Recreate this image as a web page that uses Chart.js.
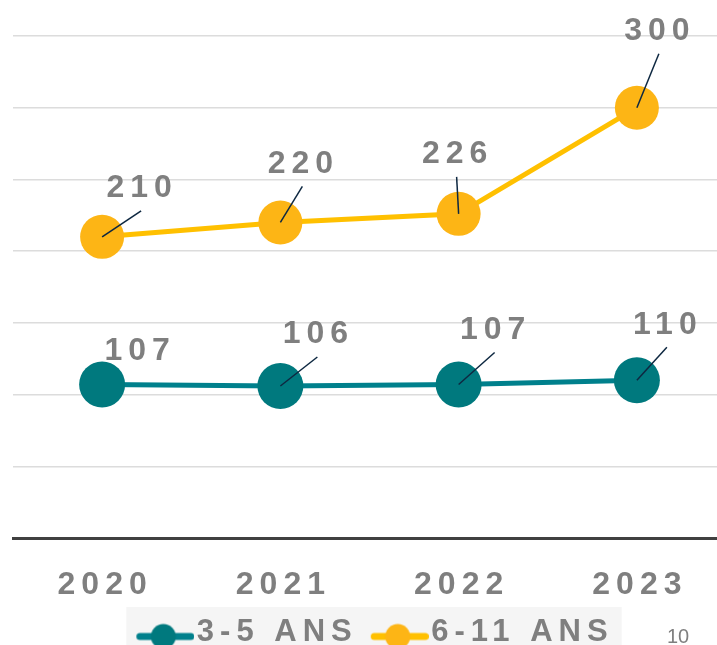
<!DOCTYPE html>
<html><head><meta charset="utf-8">
<script src="https://cdn.jsdelivr.net/npm/chart.js@4/dist/chart.umd.min.js"></script>
<style>
html,body{margin:0;padding:0;background:#fff;overflow:hidden;width:717px;height:645px;}
#wrap{position:absolute;left:0;top:0;width:730px;height:658px;}
#page{position:absolute;left:667px;top:626px;font:20px "Liberation Sans",Arial,sans-serif;color:#7f7f7f;line-height:20px;}
</style></head><body>
<div id="wrap"><canvas id="c" width="730" height="658"></canvas></div>
<div id="page">10</div>
<script>
// ---- data ----
const years = ['2020', '2021', '2022', '2023'];
const seriesNames = ['3-5 ANS', '6-11 ANS'];
const ages3to5 = [107, 106, 107, 110];
const ages6to11 = [210, 220, 226, 300];
const yTicks = [0, 50, 100, 150, 200, 250, 300, 350];

// ---- placement of callout labels (offset from point, px) ----
const labelOffsets = [
  [[35, -36], [35, -54], [34, -57], [28, -58]],
  [[37, -51], [20, -61], [-4, -62], [20, -79]]
];
const leaderShown = [[false, true, true, true], [true, true, true, true]];

const FONT = '"Liberation Sans", Arial, sans-serif';
const LS = 6;
const GREY = '#7f7f7f';
const TEAL_LINE = '#00808C', TEAL_PT = '#00797E';
const GOLD_LINE = '#FFC000', GOLD_PT = '#FDB515';

function makeMarker(lineColor, dotColor) {
  const c = document.createElement('canvas');
  c.width = 70; c.height = 36;
  const g = c.getContext('2d');
  g.strokeStyle = lineColor; g.lineWidth = 7; g.lineCap = 'round';
  g.beginPath(); g.moveTo(15.5, 22); g.lineTo(66.5, 22); g.stroke();
  g.fillStyle = dotColor;
  g.beginPath(); g.arc(39, 22, 12.5, 0, Math.PI * 2); g.fill();
  return c;
}
const markers = [makeMarker(TEAL_LINE, TEAL_PT), makeMarker(GOLD_LINE, GOLD_PT)];

const spacingPlugin = {
  id: 'spacing',
  beforeLayout(chart) { chart.ctx.letterSpacing = LS + 'px'; },
  afterLayout(chart) {
    const lg = chart.legend;
    if (lg) {
      lg.left += 6; lg.right += 6;
      (lg.legendHitBoxes || []).forEach(h => { h.left += 6; });
    }
  },
  beforeDraw(chart) { chart.ctx.letterSpacing = LS + 'px'; }
};

const legendBgPlugin = {
  id: 'legendBg',
  beforeDraw(chart) {
    const lg = chart.legend;
    if (!lg || !lg.legendHitBoxes || !lg.legendHitBoxes.length) return;
    const hb = lg.legendHitBoxes;
    const first = hb[0], last = hb[hb.length - 1];
    const ctx = chart.ctx;
    ctx.save();
    ctx.fillStyle = '#f5f5f5';
    const x0 = first.left - 11, x1 = last.left + last.width + 8;
    ctx.fillRect(x0, first.top - 10, x1 - x0, chart.height);
    ctx.restore();
  }
};

const calloutPlugin = {
  id: 'callouts',
  afterDatasetsDraw(chart) {
    const ctx = chart.ctx;
    ctx.save();
    chart.data.datasets.forEach((ds, i) => {
      const meta = chart.getDatasetMeta(i);
      meta.data.forEach((pt, j) => {
        const [dx, dy] = labelOffsets[i][j];
        const lx = pt.x + dx, ly = pt.y + dy;
        if (leaderShown[i][j]) {
          ctx.strokeStyle = '#0E2841';
          ctx.lineWidth = 1.5;
          ctx.beginPath();
          ctx.moveTo(pt.x, pt.y);
          ctx.lineTo(lx + 2, ly + 25);
          ctx.stroke();
        }
        ctx.letterSpacing = LS + 'px';
        ctx.font = 'bold 32px ' + FONT;
        ctx.fillStyle = GREY;
        ctx.textAlign = 'center';
        ctx.textBaseline = 'alphabetic';
        ctx.fillText(String(ds.data[j]), lx + LS / 2, ly + 11.5);
      });
    });
    ctx.restore();
  }
};

new Chart(document.getElementById('c'), {
  type: 'line',
  data: {
    labels: years,
    datasets: [
      {
        label: seriesNames[0], data: ages3to5,
        borderColor: TEAL_LINE, borderWidth: 5, tension: 0,
        pointRadius: 23, pointHoverRadius: 23,
        pointBackgroundColor: TEAL_PT, pointBorderColor: TEAL_PT, pointBorderWidth: 0
      },
      {
        label: seriesNames[1], data: ages6to11,
        borderColor: GOLD_LINE, borderWidth: 5, tension: 0,
        pointRadius: 22, pointHoverRadius: 22,
        pointBackgroundColor: GOLD_PT, pointBorderColor: GOLD_PT, pointBorderWidth: 0
      }
    ]
  },
  options: {
    responsive: false,
    animation: false,
    events: [],
    layout: { autoPadding: false, padding: { left: 13, right: 4, top: 36, bottom: 0 } },
    scales: {
      x: {
        type: 'category', offset: true,
        afterFit: s => { s.height = 65; },
        grid: { display: false, drawTicks: false },
        border: { display: true, color: '#404040', width: 3 },
        ticks: {
          color: GREY, padding: 28, maxRotation: 0, autoSkip: false, labelOffset: LS / 2,
          font: { family: FONT, size: 32, weight: 'bold' }
        }
      },
      y: {
        min: 0, max: 350,
        afterBuildTicks: s => { s.ticks = yTicks.map(v => ({ value: v })); },
        grid: {
          drawTicks: false, lineWidth: 1.5,
          color: c => (c.tick && c.tick.value === 0) ? 'rgba(0,0,0,0)' : '#dcdcdc'
        },
        border: { display: false },
        ticks: { display: false }
      }
    },
    plugins: {
      tooltip: { enabled: false },
      legend: {
        position: 'bottom', align: 'center',
        labels: {
          usePointStyle: true, pointStyleWidth: 44, padding: 14,
          color: GREY, font: { family: FONT, size: 31, weight: 'bold' },
          generateLabels: chart => chart.data.datasets.map((ds, i) => ({
            text: ds.label, fontColor: GREY, pointStyle: markers[i],
            datasetIndex: i, hidden: false, lineWidth: 0, strokeStyle: 'transparent', fillStyle: 'transparent'
          }))
        }
      }
    }
  },
  plugins: [spacingPlugin, legendBgPlugin, calloutPlugin]
});
</script>
</body></html>
